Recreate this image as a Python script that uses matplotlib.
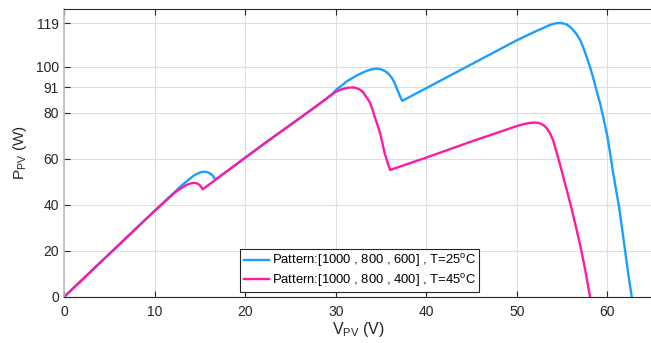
import matplotlib
matplotlib.use("Agg")
import matplotlib.pyplot as plt

plt.rcParams['font.family'] = ['Liberation Sans', 'DejaVu Sans']
plt.rcParams['mathtext.fontset'] = 'custom'
plt.rcParams['mathtext.rm'] = 'Liberation Sans'

# P-V curve, shading pattern [1000, 800, 600] W/m2, T = 25 C
v_a = [0, 5, 10, 12, 13, 13.9, 14.25, 14.6, 15.0, 15.35, 15.65, 15.9,
       16.1, 16.3, 16.45, 16.55, 16.7,
       18.3, 22, 26, 28, 29.4, 30.1, 30.7, 31.2, 31.8, 32.3, 32.9, 33.4,
       33.9, 34.3, 34.6, 34.9, 35.25, 35.6, 35.9, 36.2, 36.45, 36.65, 36.9,
       37.1, 37.35, 40, 45, 50, 51.5, 52.2, 52.9, 53.5, 54.0, 54.4, 54.8,
       55.2, 55.5, 55.85, 56.2, 56.6, 57.0, 57.35, 57.7, 58.1, 58.45, 58.8,
       59.2, 59.6, 60.0, 60.33, 60.66, 61.0, 61.3, 61.63, 61.96, 62.3, 62.7]
p_a = [0, 18.7, 37.4, 44.8, 48.5, 51.4, 52.5, 53.3, 54.0, 54.3, 54.3, 54.0,
       53.6, 53.0, 52.4, 51.7, 50.9,
       55.5, 66.3, 77.6, 83.3, 87.3, 90.2, 92.0, 93.6, 95.0, 96.2, 97.3, 98.2,
       98.8, 99.1, 99.15, 99.0, 98.5, 97.7, 96.6, 95.1, 93.4, 91.4, 89.2,
       87.1, 85.2, 90.7, 101.1, 111.5, 114.3, 115.6, 116.8, 117.9, 118.6, 118.95, 119.0,
       118.8, 118.4, 117.5, 116.1, 114.2, 111.7, 108.4, 104.5, 99.9, 95.1, 89.9,
       84.2, 77.3, 70.0, 62.0, 53.7, 45.8, 39.2, 29.8, 20.3, 10.5, 0]

# P-V curve, shading pattern [1000, 800, 400] W/m2, T = 45 C
v_b = [0, 5, 10, 12, 12.5, 13.0, 13.4, 13.7, 14.0, 14.3, 14.55, 14.8,
       14.95, 15.1, 15.29,
       18.3, 22, 26, 28, 29.4, 30.0, 30.5, 31.0, 31.4, 31.9, 32.3, 32.7,
       33.0, 33.2, 33.5, 33.8, 34.05, 34.3, 34.6, 34.9, 35.15, 35.4, 35.7,
       36.0, 40, 45, 50, 50.8, 51.5, 52.0, 52.5, 53.0, 53.3, 53.65, 54.0,
       54.5, 55.0, 55.5, 56.0, 56.5, 57.0, 57.5, 58.1]
p_b = [0, 18.7, 37.4, 44.5, 46.1, 47.4, 48.4, 48.9, 49.3, 49.5, 49.4, 49.0,
       48.5, 47.8, 46.7,
       55.5, 66.3, 77.6, 83.3, 87.5, 89.1, 90.0, 90.6, 90.9, 91.0, 90.7, 90.0,
       89.0, 87.8, 86.2, 84.2, 81.5, 78.3, 74.8, 71.1, 66.9, 62.4, 58.6,
       55.1, 60.5, 67.5, 74.2, 75.1, 75.6, 75.75, 75.5, 74.5, 73.3, 71.3, 68.2,
       61.5, 54.2, 46.8, 39.2, 31.0, 22.5, 13.0, 0]

labels = ['Pattern:[1000 , 800 , 600] , T=25$^{\\rm o}$C',
          'Pattern:[1000 , 800 , 400] , T=45$^{\\rm o}$C']
x_ticks = [0, 10, 20, 30, 40, 50, 60]
y_ticks = [0, 20, 40, 60, 80, 91, 100, 119]

fig = plt.figure(figsize=(6.51, 3.43), dpi=100)
ax = fig.add_axes([0.0988, 0.135, 0.9035, 0.838])

ax.plot(v_a, p_a, color='#1a9fff', lw=1.7, label=labels[0])
ax.plot(v_b, p_b, color='#ff1aa6', lw=1.7, label=labels[1])

ax.set_xlim(0, 65)
ax.set_ylim(0, 125)
ax.set_xticks(x_ticks)
ax.set_yticks(y_ticks)
ax.grid(True, color='#dedede', lw=0.8)
ax.set_axisbelow(True)
ax.tick_params(direction='in', length=4, labelsize=10, colors='#262626',
               top=True)
ax.tick_params(axis='x', pad=6)
ax.tick_params(axis='y', pad=4)
ax.spines['right'].set_visible(False)
ax.spines['left'].set_color('#bdbdbd')
ax.spines['left'].set_linewidth(1.2)
for s in ('top', 'bottom'):
    ax.spines[s].set_color('#262626')

ax.set_xlabel('V$_{\\rm PV}$ (V)', fontsize=11.5, color='#262626', labelpad=1)
ax.set_ylabel('P$_{\\rm PV}$ (W)', fontsize=11, color='#262626', labelpad=5)

leg = ax.legend(loc='lower center', bbox_to_anchor=(0.502, 0.0), fontsize=9.4,
                fancybox=False, framealpha=1, edgecolor='#262626',
                handlelength=1.95, handletextpad=0.2, borderpad=0.25,
                labelspacing=0.2, borderaxespad=0.35)
leg.get_frame().set_linewidth(0.8)

fig.savefig('out.png', dpi=100)
